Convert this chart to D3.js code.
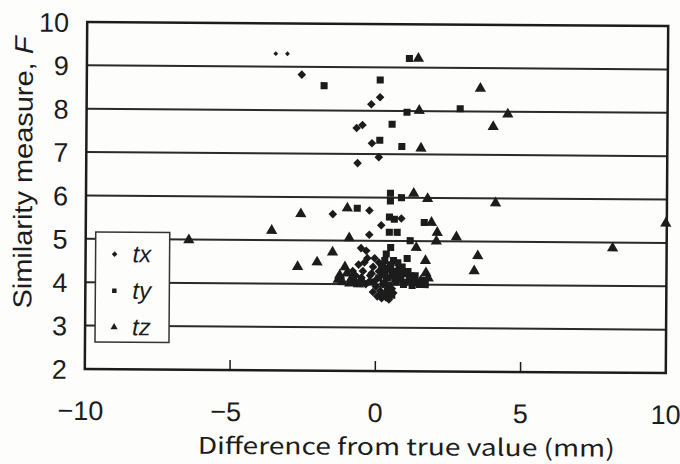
<!DOCTYPE html>
<html>
<head>
<meta charset="utf-8">
<script src="https://cdn.jsdelivr.net/npm/d3@7"></script>
<style>
  body { margin: 0; background: #fdfdfb; }
  svg { display: block; }
</style>
</head>
<body>
<div id="chart"></div>
<script>
// Data (x: mm, y: F)
var seriesNames = ['tx', 'ty', 'tz'];
var xTicks = [-10, -5, 0, 5, 10];
var yTicks = [2, 3, 4, 5, 6, 7, 8, 9, 10];

var txX = [-3.5, -3.1, -2.6, -0.2, 0.1, -0.7, -0.5, -0.17, 0.07, -0.66, -1.5, -0.24, 0.86, 0.17, -0.24,
    -0.34, -0.52, -0.6, -0.45, -0.3, -0.2, -0.1, 0.0, 0.1, 0.2, 0.3, -0.5, 0.4, 0.0, -0.1, 0.05, 0.2, 0.35, 0.5, 0.55, 0.15, -0.35, 0.25,
    -0.4, -0.25, 0.1, 0.3, -0.05, 0.2, 0.45, -0.15, 0.35, -0.7, -0.8, 0.6, 0.7];
var txY = [9.3, 9.3, 8.82, 8.15, 8.31, 7.6, 7.67, 7.25, 6.93, 6.79, 5.61, 5.7, 5.52, 5.36, 5.14,
    4.77, 4.83, 4.45, 4.3, 4.6, 4.2, 4.4, 4.1, 4.5, 4.25, 4.05, 4.15, 4.35, 3.95, 3.82, 3.72, 3.68, 3.7, 3.78, 3.9, 3.85, 4.0, 4.0,
    4.5, 4.05, 4.3, 4.4, 4.6, 3.78, 3.65, 4.25, 4.15, 4.2, 4.3, 3.8, 4.3];

var tyX = [1.1, 0.1, -1.83, 2.86, 1.03, 0.52, 0.1, 0.86, 0.48, 0.48, 0.86, -0.66, 0.45, 0.62, 1.65, 0.45, 0.72, 1.17, 1.07,
    0.2, 0.4, 0.55, 0.7, 0.85, 1.0, 1.15, 1.3, 1.45, 1.6, 0.6, 0.35, 0.9, 0.1, 0.75, -0.1, 0.45, 0.3, 0.5, 0.65,
    0.3, 0.5, 0.8, 1.0, 1.2, 1.35, 0.95, 1.25, 1.5, 1.7, 0.6, 0.25, 0.4, 0.55, 0.85, 1.1];
var tyY = [9.21, 8.71, 8.57, 8.06, 7.97, 7.69, 7.32, 7.18, 6.1, 5.92, 6.0, 5.75, 5.55, 5.5, 5.43, 5.2, 5.2, 5.01, 4.6,
    4.4, 4.15, 4.3, 4.05, 4.2, 4.05, 4.1, 4.05, 4.05, 4.1, 4.55, 4.7, 4.4, 4.15, 4.5, 4.05, 3.98, 4.55, 4.85, 4.1,
    4.25, 4.45, 4.35, 4.25, 4.2, 4.2, 4.0, 3.98, 4.0, 4.0, 4.2, 4.0, 3.85, 3.75, 4.12, 4.3];

var tzX = [1.41, 3.55, 1.45, 4.5, 4.0, 1.52, 1.28, 1.76, 4.1, -1.0, -2.6, 1.9, 10, 2.1, -3.6, 2.76, -0.93, 2.07, -6.45, 8.14,
    1.38, -1.5, 3.5, 1.7, -2.03, -2.7, -1.07, 3.38, 1.72, -1.15, -1.0, -0.85, -0.7, -1.3, 1.55, -0.5, 0.8,
    -0.9, -0.6, -1.25, 1.65, 1.8];
var tzY = [9.21, 8.53, 8.01, 7.94, 7.65, 7.14, 6.1, 5.98, 5.89, 5.75, 5.61, 5.43, 5.45, 5.2, 5.22, 5.1, 5.06, 5.0, 4.99, 4.87,
    4.85, 4.73, 4.67, 4.55, 4.5, 4.39, 4.39, 4.32, 4.27, 4.05, 4.25, 4.12, 4.05, 4.1, 4.08, 4.1, 4.25,
    4.02, 4.0, 4.2, 4.05, 4.15];

var W = 680, H = 464;
var ink = '#1c1c1c';

var svg = d3.select('#chart').append('svg')
    .attr('width', W)
    .attr('height', H)
;

// whole scan is tilted a little clockwise
var g = svg.append('g').attr('transform', 'rotate(0.4, 377, 197)');

var x = d3.scaleLinear().domain([-10, 10]).range([86, 667]);
var y = d3.scaleLinear().domain([2, 10]).range([371, 24]);

// Gridlines
g.selectAll('line.grid')
    .data(yTicks.filter(function (d) { return d > 2 && d < 10; }))
    .enter()
    .append('line')
    .attr('class', 'grid')
    .attr('x1', x(-10)).attr('x2', x(10))
    .attr('y1', function (d) { return y(d); })
    .attr('y2', function (d) { return y(d); })
    .attr('stroke', '#2a2a2a')
    .attr('stroke-width', 2)
;

// x ticks (inside)
g.selectAll('line.xt')
    .data([-5, 0, 5])
    .enter()
    .append('line')
    .attr('x1', function (d) { return x(d); })
    .attr('x2', function (d) { return x(d); })
    .attr('y1', y(2)).attr('y2', y(2) - 10)
    .attr('stroke', ink)
    .attr('stroke-width', 1.5)
;

// frame
g.append('rect')
    .attr('x', x(-10)).attr('y', y(10))
    .attr('width', x(10) - x(-10))
    .attr('height', y(2) - y(10))
    .attr('fill', 'none')
    .attr('stroke', ink)
    .attr('stroke-width', 2.5)
;

function marker(name, s) {
    if (name === 'ty') {
        return d3.symbol().type(d3.symbolSquare).size(s)();
    }
    return d3.symbol().type(d3.symbolTriangle).size(s * 1.1)();
}
function diamondPath(r) {
    return 'M0,' + (-r) + 'L' + r + ',0L0,' + r + 'L' + (-r) + ',0Z';
}

var series = [
    { name: 'tx', xs: txX, ys: txY },
    { name: 'ty', xs: tyX, ys: tyY },
    { name: 'tz', xs: tzX, ys: tzY }
];

series.forEach(function (s) {
    var pts = s.xs.map(function (v, i) { return [v, s.ys[i]]; });
    g.append('g').selectAll('path')
        .data(pts)
        .enter()
        .append('path')
        .attr('d', function (d, i) {
            if (s.name === 'tx') return diamondPath(i < 2 ? 2.4 : 4.3);
            return marker(s.name, 50);
        })
        .attr('transform', function (d) {
            var px = Math.min(x(d[0]), x(10) - 1);
            return 'translate(' + px + ',' + y(d[1]) + ')';
        })
        .attr('fill', ink)
    ;
});

// y tick labels
g.selectAll('text.yl')
    .data(yTicks)
    .enter()
    .append('text')
    .attr('x', 68)
    .attr('y', function (d) { return y(d) + 10; })
    .attr('text-anchor', 'end')
    .attr('font-family', 'Liberation Sans, Arial, sans-serif')
    .attr('font-size', '27px')
    .attr('fill', ink)
    .text(function (d) { return d; })
;

// x tick labels
g.selectAll('text.xl')
    .data(xTicks)
    .enter()
    .append('text')
    .attr('x', function (d) { return x(d) + (d < 0 ? -4 : 0); })
    .attr('y', 422)
    .attr('text-anchor', 'middle')
    .attr('font-family', 'Liberation Sans, Arial, sans-serif')
    .attr('font-size', '27px')
    .attr('fill', ink)
    .text(function (d) { return d < 0 ? '\u2212' + Math.abs(d) : d; })
;

// axis titles
g.append('text')
    .attr('x', 408)
    .attr('y', 455)
    .attr('text-anchor', 'middle')
    .attr('font-family', 'Noto Sans CJK JP, DejaVu Sans, sans-serif')
    .attr('font-size', '23px')
    .attr('textLength', 417)
    .attr('lengthAdjust', 'spacingAndGlyphs')
    .attr('fill', ink)
    .text('Difference from true value (mm)')
;

var yt = g.append('text')
    .attr('transform', 'translate(32,175) rotate(-90)')
    .attr('text-anchor', 'middle')
    .attr('font-family', 'Liberation Sans, Arial, sans-serif')
    .attr('font-size', '26px')
    .attr('textLength', 272)
    .attr('lengthAdjust', 'spacingAndGlyphs')
    .attr('fill', ink)
;
yt.append('tspan').text('Similarity measure, ');
yt.append('tspan').attr('font-style', 'italic').text('F');

// Legend
var lg = g.append('g').attr('transform', 'translate(96,234)');
lg.append('rect')
    .attr('width', 74).attr('height', 110)
    .attr('fill', '#fdfdfb')
    .attr('stroke', '#333')
    .attr('stroke-width', 1.5)
;
var items = lg.selectAll('g.item')
    .data(seriesNames)
    .enter()
    .append('g')
    .attr('transform', function (d, i) { return 'translate(0,' + (22 + i * 36.5) + ')'; })
;
items.append('path')
    .attr('d', function (d) { return d === 'tx' ? diamondPath(2.8) : marker(d, 20); })
    .attr('transform', 'translate(19,0)')
    .attr('fill', ink)
;
items.append('text')
    .attr('x', 37)
    .attr('y', 8)
    .attr('font-family', 'Liberation Sans, Arial, sans-serif')
    .attr('font-style', 'italic')
    .attr('font-size', '24px')
    .attr('fill', ink)
    .text(function (d) { return d; })
;
</script>
</body>
</html>
